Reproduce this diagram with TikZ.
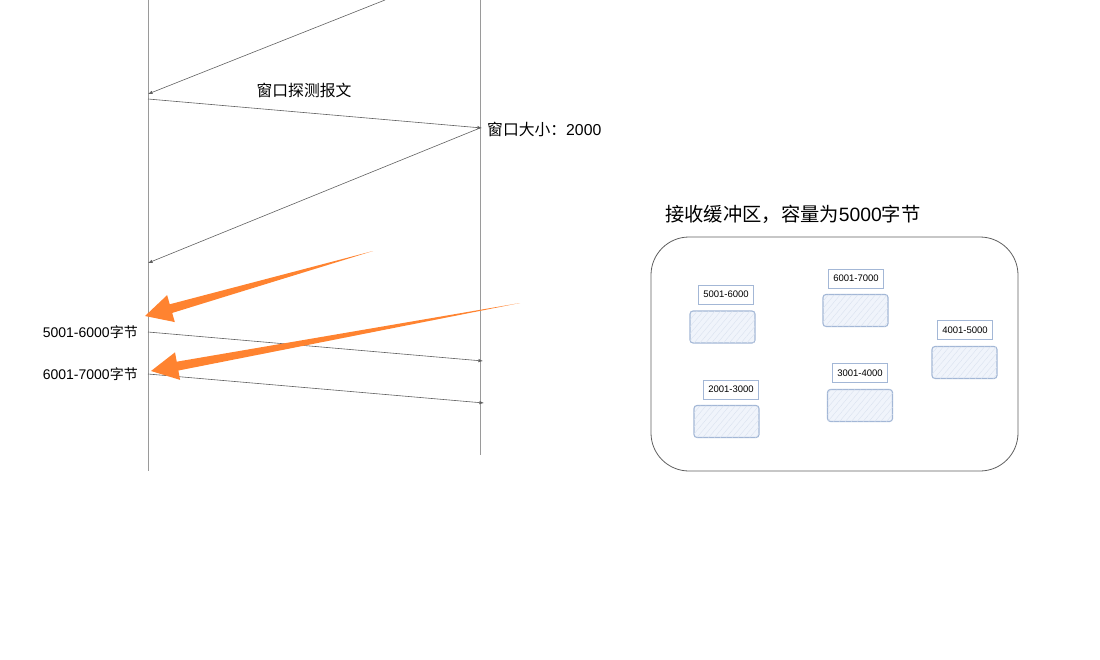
\documentclass[tikz,border=0pt]{standalone}
\usepackage{fontspec}
\setmainfont{Liberation Sans}
\newfontfamily\cjk{Noto Sans CJK SC}
\usepackage{tikz}
\usetikzlibrary{calc,arrows.meta,patterns.meta}
\definecolor{life}{HTML}{9A9A9A}
\definecolor{msg}{HTML}{606060}
\definecolor{hot}{HTML}{FF8330}
\definecolor{frame}{HTML}{5F5F5F}
\definecolor{edge}{HTML}{A3B7D6}
\definecolor{tint}{HTML}{F0F4FB}
\tikzset{
  lifeline/.style={draw=life, line width=0.9pt},
  msgline/.style={draw=msg, line width=0.6pt, -{Latex[length=4.5pt,width=3.5pt]}},
  lab/.style={font=\fontsize{15.8}{18}\selectfont, inner sep=0pt},
  bytes/.style={font=\fontsize{14}{16}\selectfont, inner sep=0pt, anchor=east},
  tag/.style={draw=edge, fill=white, line width=0.9pt, minimum width=55pt, minimum height=19pt,
    inner sep=0pt, font=\fontsize{9.5}{11}\selectfont},
  blk/.style={draw=edge, fill=tint, line width=1.1pt, rounded corners=3pt,
    minimum width=65pt, minimum height=32pt,
    postaction={pattern={Lines[angle=50,distance=4.5pt,line width=0.4pt]}, pattern color=edge!40}}
}
\newcommand\fatarrow[2]{%
  \coordinate (fb) at ($(#2)!27pt!(#1)$);
  \fill[hot] (#1) -- ($(fb)!4.5pt!90:(#1)$) -- ($(fb)!14pt!90:(#1)$) -- (#2)
    -- ($(fb)!14pt!-90:(#1)$) -- ($(fb)!4.5pt!-90:(#1)$) -- cycle;}

\begin{document}
\begin{tikzpicture}[x=1pt,y=-1pt]
  \useasboundingbox (0,0) rectangle (1100,659);

  % lifelines
  \coordinate (L0) at (148,0);   \coordinate (L1) at (148,471);
  \coordinate (R0) at (480,0);   \coordinate (R1) at (480,455);
  \draw[lifeline] (L0) -- (L1);
  \draw[lifeline] (R0) -- (R1);

  % messages
  \coordinate (m0) at (385,0);   \coordinate (m1) at (148,94);
  \coordinate (m2) at (148,99);  \coordinate (m3) at (482,128);
  \coordinate (m4) at (480,128); \coordinate (m5) at (148,263);
  \coordinate (m6) at (148,332); \coordinate (m7) at (483,361);
  \coordinate (m8) at (148,374); \coordinate (m9) at (484,403);
  \draw[msgline] (m0) -- (m1);
  \draw[msgline] (m2) -- (m3);
  \draw[msgline] (m4) -- (m5);
  \draw[msgline] (m6) -- (m7);
  \draw[msgline] (m8) -- (m9);

  \node[lab] (probe) at (304,90) {\cjk 窗口探测报文};
  \node[lab, anchor=west] (win) at (487,129) {{\cjk 窗口大小：}2000};
  \node[bytes] (b1) at (138,332) {5001-6000{\cjk 字节}};
  \node[bytes] (b2) at (138,374) {6001-7000{\cjk 字节}};

  % orange pointers
  \coordinate (o1) at (373,251); \coordinate (o2) at (145,316);
  \coordinate (o3) at (520,303); \coordinate (o4) at (151,371);
  \fatarrow{o1}{o2}
  \fatarrow{o3}{o4}

  % receive buffer
  \node[font=\fontsize{19.3}{22}\selectfont, anchor=west, inner sep=0pt] (title) at (665,214)
    {{\cjk 接收缓冲区，容量为}5000{\cjk 字节}};
  \draw[draw=frame, line width=0.8pt, rounded corners=38pt] (651,237) rectangle (1018,471);

  \node[tag] (t56) at (726,294.5) {5001-6000};
  \node[blk] (k56) at (722.5,327) {};
  \node[tag] (t67) at (856,278.5) {6001-7000};
  \node[blk] (k67) at (855.5,310.5) {};
  \node[tag] (t45) at (965,330) {4001-5000};
  \node[blk] (k45) at (964.5,362.5) {};
  \node[tag] (t23) at (731,389.5) {2001-3000};
  \node[blk] (k23) at (726.5,421.5) {};
  \node[tag] (t34) at (860,373) {3001-4000};
  \node[blk] (k34) at (860,405.5) {};
\end{tikzpicture}
\end{document}
